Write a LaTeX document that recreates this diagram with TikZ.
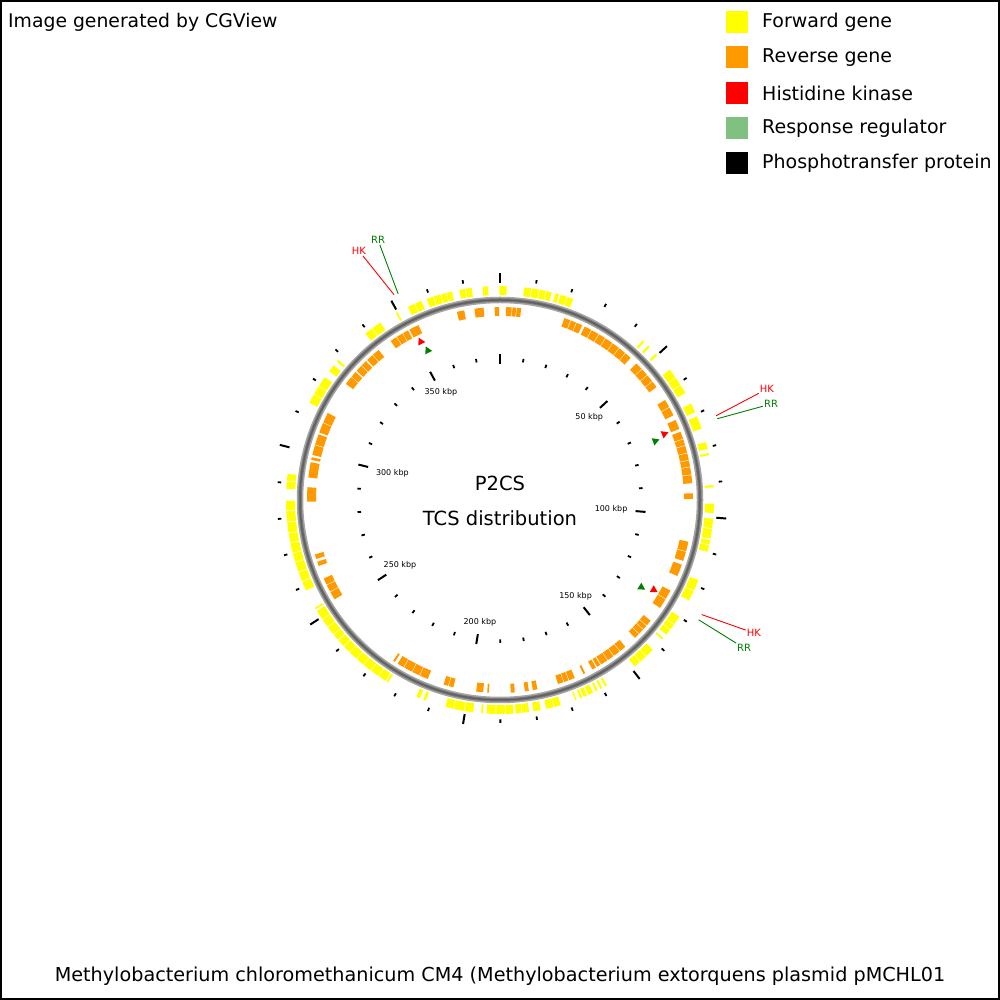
\documentclass[tikz,border=0pt]{standalone}
\usepackage{fontspec}
\setmainfont{DejaVu Sans}
\usetikzlibrary{shapes.geometric}
\definecolor{fwdYellow}{HTML}{FFFF00}
\definecolor{revOrange}{HTML}{FF9900}
\definecolor{hkRed}{HTML}{FF0000}
\definecolor{rrGreen}{HTML}{008000}
\definecolor{rrLight}{HTML}{80C080}

% one feature block: style, from, to (deg clockwise from top), inner and outer radius
\newcommand{\featarc}[5]{%
  \pgfmathsetmacro\fa{90-(#2)}\pgfmathsetmacro\fb{90-(#3)}%
  \fill[#1] (\fa:#4) arc[start angle=\fa, end angle=\fb, radius=#4]
    -- (\fb:#5) arc[start angle=\fb, end angle=\fa, radius=#5] -- cycle;}

\begin{document}
\begin{tikzpicture}[x=1pt, y=1pt,
    fwd/.style={fill=fwdYellow},
    rev/.style={fill=revOrange},
    tickmaj/.style={line width=2pt},
    tickmin/.style={line width=1.8pt},
    kbp/.style={font=\fontsize{8}{9}\selectfont, inner sep=1pt},
    tcsmark/.style={regular polygon, regular polygon sides=3, inner sep=0pt, minimum size=9pt},
    hkmark/.style={tcsmark, fill=hkRed},
    rrmark/.style={tcsmark, fill=rrGreen},
    hklbl/.style={text=hkRed, font=\fontsize{10}{11}\selectfont, inner sep=1pt},
    rrlbl/.style={text=rrGreen, font=\fontsize{10}{11}\selectfont, inner sep=1pt},
    hklead/.style={draw=hkRed, line width=0.9pt},
    rrlead/.style={draw=rrGreen, line width=0.9pt},
    swatch/.style={minimum size=22pt, inner sep=0pt},
    legtext/.style={anchor=west, font=\fontsize{19}{21}\selectfont, inner sep=0pt},
    bigtext/.style={font=\fontsize{19.2}{21}\selectfont, inner sep=0pt}
  ]
  \useasboundingbox (0,0) rectangle (1000,1000);
  \fill[white] (0,0) rectangle (1000,1000);
  \draw[line width=2pt] (1,1) rectangle (999,999);

  \node[bigtext, font=\fontsize{18.8}{21}\selectfont, anchor=base west] (credit) at (8,972) {Image generated by CGView};
  \node[bigtext, anchor=base] (title) at (500,18) {Methylobacterium chloromethanicum CM4 (Methylobacterium extorquens plasmid pMCHL01};

  % legend
  \foreach \c/\t [count=\i] in {fwdYellow/Forward gene, revOrange/Reverse gene, hkRed/Histidine kinase, rrLight/Response regulator, black/Phosphotransfer protein}{
    \node[swatch, fill=\c] (sw\i) at (737,{978-35.3*(\i-1)}) {};
    \node[legtext] (lg\i) at (762,{977.5-35.3*(\i-1)}) {\t};
  }

  \begin{scope}[shift={(500,500)}]
    % ticks, every 10 kbp of 380.2 kbp
    \foreach \k in {0,...,37}{
      \pgfmathtruncatemacro\maj{mod(\k,5)==0}
      \pgfmathsetmacro\ang{90-\k*9.4685}
      \ifnum\maj=1
        \draw[tickmaj] (\ang:217) -- (\ang:227);
        \draw[tickmaj] (\ang:136) -- (\ang:146);
      \else
        \draw[tickmin] (\ang:219.5) -- (\ang:223);
        \draw[tickmin] (\ang:139.5) -- (\ang:143);
      \fi
    }
    \foreach \k in {5,10,...,35}{
      \pgfmathsetmacro\ang{mod(90-\k*9.4685+720,360)}
      \node[kbp, anchor=\ang] (kb\k) at (\ang:129) {\k0 kbp};
    }

    % forward genes
    \foreach \a/\b in {-39/-36.8, -36.6/-34, -29.1/-28.6, -25.5/-23.6, -23.4/-21.5,
        -20/-18.2, -18/-16.2, -16/-14.6, -14.4/-13, -11/-9.4, -9.2/-7.6, -4.7/-3.2,
        -0.2/1.8, 6.5/8.4, 8.6/10.5, 10.7/12.3, 12.5/14, 15/16, 16.5/18.2, 18.4/20,
        41.8/42.4, 43.8/44.4, 46.8/47.4, 52.5/55, 55.2/57.4, 57.6/60, 63.2/65.8,
        67/70.5, 74.3/76.2, 77.3/77.9, 86/86.6, 91/93.5, 95/97.6, 97.8/100.4,
        100.8/102, 102.2/104, 112/115, 115.2/118, 123/125.5, 125.7/127.2, 127.4/129,
        130.2/130.7, 134.4/136.8, 137/139, 139.2/141, 150/150.6, 151.4/152,
        152.8/153.4, 154.2/155.6, 156/157, 157.4/158, 159/159.4, 163.5/165.3,
        165.5/167.5, 169/171, 172.2/174, 174.2/175.8, 176.4/178.5, 178.7/181,
        181.2/183.6, 184.6/185.1, 187.2/189.6, 189.8/192.4, 192.6/194.8,
        200.3/201, 202/203, 211.5/212, 212.3/214.5, 214.7/217, 217.2/219.5,
        219.7/222, 222.2/224.6, 224.8/226.8, 227/229, 229.3/231, 231.2/233.5,
        233.7/236, 236.2/238.8, 239.3/239.8, 245/247.5, 247.7/250.2, 250.4/253,
        253.2/255.5, 255.7/258.4, 258.6/261, 261.2/264, 264.2/267, 267.2/269.8,
        273/275, 275.2/277, 297/299.5, 299.7/302, 302.2/305, 307/309, 310.3/310.9}
      {\featarc{fwd}{\a}{\b}{205}{214}}

    % reverse genes
    \foreach \a/\b in {1.8/3.5, 3.7/4.8, 5/6.3, 19.5/21.4, 21.6/23.2, 23.4/25.2,
        26/28.2, 28.4/30.7, 30.9/33, 33.2/35.6, 35.8/38, 38.2/40.4, 40.6/42.6,
        45/47.2, 47.4/49.6, 49.8/52, 52.2/54.2, 58.8/61.2, 61.4/64, 65.5/68.4,
        69.3/71.5, 71.7/73.5, 73.7/75.8, 76/78, 78.2/80, 80.2/82.4, 82.6/85,
        88/89.7, 102.5/105.4, 105.6/108.4, 109.6/113.2, 118/120.8, 121/124,
        128.7/130.5, 130.7/132, 132.2/133.8, 134/135.6, 139.5/141.5, 141.7/143.8,
        144/146, 146.2/148.4, 148.7/149.8, 150.2/151.4, 153.8/154.4, 157.2/159,
        159.2/160.6, 160.8/162.5, 168.8/170.2, 171.4/172.6, 175.6/176.8,
        183.3/183.8, 185/187.1, 194/195.4, 195.6/197, 202/204.5, 204.7/207,
        207.2/209.8, 210/212, 213/213.6, 239/241.5, 241.7/243.8, 244/246,
        250/251.3, 252.2/253.6, 269.5/273.8, 276.7/281.3, 282/282.8, 283.5/286.5,
        286.7/289.9, 290.5/293.5, 293.7/296.8, 307/309.5, 309.7/311.5, 312/314,
        314.2/316, 316.5/318.6, 318.8/321, 325.5/327.5, 327.7/329.6, 329.8/331.5,
        332/335, 347.1/349.3, 352.4/355.1, 358.4/359.7}
      {\featarc{rev}{\a}{\b}{184}{193}}

    % backbone
    \draw[black!35, line width=6.5pt] (0,0) circle[radius=200];
    \draw[black!52, line width=3.5pt] (0,0) circle[radius=200];
    \draw[black!62, line width=1.5pt] (0,0) circle[radius=200];

    % two-component system genes
    \node[hkmark, rotate=26.6] (hk1) at ({90+26.6}:177) {};
    \node[rrmark, rotate=25.8] (rr1) at ({90+25.8}:166) {};
    \node[hkmark, rotate=-68.1] (hk2) at ({90-68.1}:177) {};
    \node[rrmark, rotate=-69.2] (rr2) at ({90-69.2}:166) {};
    \node[hkmark, rotate=-120.3] (hk3) at ({90-120.3}:178) {};
    \node[rrmark, rotate=-121.7] (rr3) at ({90-121.7}:166) {};

    \coordinate (hk1end) at ({90+27.3}:231);
    \coordinate (rr1end) at ({90+26.3}:230);
    \coordinate (hk2end) at ({90-68.7}:232);
    \coordinate (rr2end) at ({90-69.5}:232);
    \coordinate (hk3end) at ({90-119.6}:232);
    \coordinate (rr3end) at ({90-121.1}:232);

    \node[hklbl] (hk1lbl) at (-141,249) {HK};
    \node[rrlbl] (rr1lbl) at (-122,260) {RR};
    \node[hklbl] (hk2lbl) at (267,111) {HK};
    \node[rrlbl] (rr2lbl) at (271,96) {RR};
    \node[hklbl] (hk3lbl) at (254,-133) {HK};
    \node[rrlbl] (rr3lbl) at (244,-148) {RR};

    \draw[hklead] (hk1end) -- (hk1lbl);
    \draw[rrlead] (rr1end) -- (rr1lbl);
    \draw[hklead] (hk2end) -- (hk2lbl);
    \draw[rrlead] (rr2end) -- (rr2lbl);
    \draw[hklead] (hk3end) -- (hk3lbl);
    \draw[rrlead] (rr3end) -- (rr3lbl);

    \node[bigtext, font=\fontsize{19.5}{21}\selectfont] (name) at (0,17) {P2CS};
    \node[bigtext, font=\fontsize{19.5}{21}\selectfont] (sub) at (0,-18) {TCS distribution};
  \end{scope}
\end{tikzpicture}
\end{document}
